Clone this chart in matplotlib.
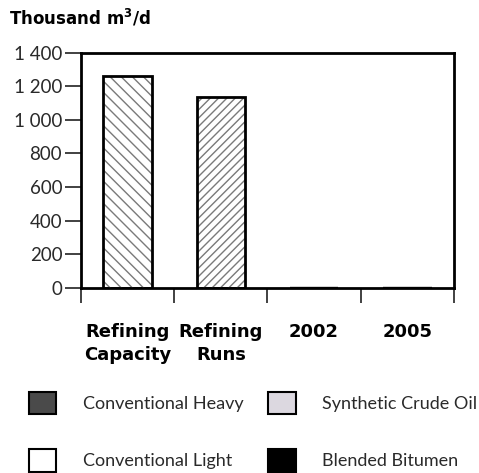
import matplotlib
matplotlib.use("Agg")
import matplotlib.pyplot as plt
from matplotlib.ticker import FixedLocator, FuncFormatter
import numpy as np

plt.rcParams['font.family'] = ['Lato', 'DejaVu Sans']
plt.rcParams['hatch.color'] = '#7a7a7a'
plt.rcParams['hatch.linewidth'] = 1.0
BOLD = ['DejaVu Sans']

# Refining figures (thousand m3/d)
refining_labels = ["Refining\nCapacity", "Refining\nRuns"]
refining_values = [1262, 1133]
refining_hatches = ["\\\\\\", "////"]

# Crude supply by type for the forecast years
years = ["2002", "2005"]
conventional_heavy = [0, 0]
conventional_light = [0, 0]
synthetic_crude = [0, 0]
blended_bitumen = [0, 0]

series = [
    ("Conventional Heavy", conventional_heavy, "#4a4a4a"),
    ("Conventional Light", conventional_light, "#ffffff"),
    ("Synthetic Crude Oil", synthetic_crude, "#dcd8e0"),
    ("Blended Bitumen", blended_bitumen, "#000000"),
]

categories = refining_labels + years
y_ticks = [0, 200, 400, 600, 800, 1000, 1200, 1400]

fig = plt.figure(figsize=(4.79, 4.73), dpi=100)
ax = fig.add_axes([0.1691, 0.3911, 0.7787, 0.4979])

width = 0.52
x_ref = np.arange(len(refining_values)) + 0.5
ax.bar(x_ref, refining_values, width=width, color="white",
       edgecolor="none", linewidth=0, zorder=2)
for xi, v, h in zip(x_ref, refining_values, refining_hatches):
    ax.bar(xi, v, width=width, color="none", hatch=h, edgecolor="#7a7a7a",
           linewidth=0, zorder=3)
ax.bar(x_ref, refining_values, width=width, fill=False, edgecolor="black",
       linewidth=2, zorder=4)

x_years = np.arange(len(years)) + 0.5 + len(refining_values)
bottom = np.zeros(len(years))
handles = []
for name, vals, col in series:
    b = ax.bar(x_years, vals, width=width, bottom=bottom, color=col,
               edgecolor="black", linewidth=1.5, label=name, zorder=2)
    handles.append(b)
    bottom += np.array(vals)

ax.set_xlim(0, len(categories))
ax.set_ylim(0, 1400)

for s in ax.spines.values():
    s.set_linewidth(2)
    s.set_color("black")

ax.yaxis.set_major_locator(FixedLocator(y_ticks))
ax.yaxis.set_major_formatter(FuncFormatter(lambda v, p: f"{int(v):,}".replace(",", " ")))
ax.tick_params(axis="y", direction="out", length=11.5, width=1.3, pad=2,
               labelsize=13.5, labelcolor="#2a2a2a", color="#333333")

ax.xaxis.set_major_locator(FixedLocator(np.arange(len(categories) + 1)))
ax.xaxis.set_major_formatter(FuncFormatter(lambda v, p: ""))
ax.xaxis.set_minor_locator(FixedLocator(np.arange(len(categories)) + 0.5))
ax.set_xticklabels(categories, minor=True, fontsize=13, fontweight="bold",
                   family=BOLD, va="top", linespacing=1.35)
ax.tick_params(axis="x", which="major", direction="out", length=11, width=1.3,
               color="#333333")
ax.tick_params(axis="x", which="minor", length=0, pad=25)

fig.text(0.019, 0.962, "Thousand m$^\\mathbf{3}$/d", fontsize=12,
         fontweight="bold", family=BOLD, ha="left", va="center")

leg = fig.legend(handles=handles, labels=[s[0] for s in series], ncol=2,
                 loc="upper left", bbox_to_anchor=(0.046, 0.186),
                 frameon=False, fontsize=13, handlelength=1.5,
                 handleheight=1.5, handletextpad=1.45, columnspacing=1.4,
                 labelspacing=1.95, borderaxespad=0)
for t in leg.get_texts():
    t.set_color("#2a2a2a")

fig.savefig("out.png", dpi=100)
